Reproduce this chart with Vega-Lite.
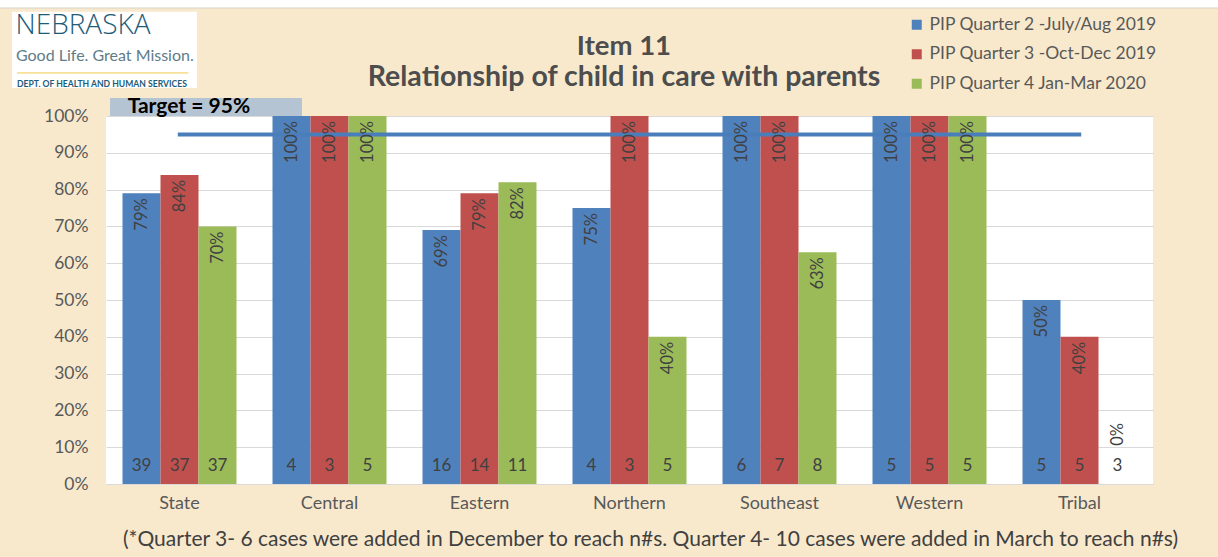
{
  "$schema": "https://vega.github.io/schema/vega-lite/v6.json",
  "autosize": "none",
  "width": 1047,
  "height": 368,
  "padding": {"left": 106, "top": 116, "right": 65, "bottom": 73},
  "background": "#F8E9CD",
  "config": {
    "font": "Lato",
    "view": {"fill": "white", "stroke": null},
    "legend": {
      "orient": "none",
      "legendX": 802,
      "legendY": -100,
      "title": null,
      "symbolType": "square",
      "symbolSize": 100,
      "symbolStrokeWidth": 0,
      "labelFontSize": 17.5,
      "labelColor": "#595959",
      "labelOffset": 4,
      "rowPadding": 10.5,
      "padding": 0,
      "labelLimit": 400
    }
  },
  "datasets": {
    "items": [
      {"region": "State", "series": "PIP Quarter 2 -July/Aug 2019", "pct": 0.79, "n": 39},
      {"region": "State", "series": "PIP Quarter 3 -Oct-Dec 2019", "pct": 0.84, "n": 37},
      {"region": "State", "series": "PIP Quarter 4 Jan-Mar 2020", "pct": 0.70, "n": 37},
      {"region": "Central", "series": "PIP Quarter 2 -July/Aug 2019", "pct": 1.0, "n": 4},
      {"region": "Central", "series": "PIP Quarter 3 -Oct-Dec 2019", "pct": 1.0, "n": 3},
      {"region": "Central", "series": "PIP Quarter 4 Jan-Mar 2020", "pct": 1.0, "n": 5},
      {"region": "Eastern", "series": "PIP Quarter 2 -July/Aug 2019", "pct": 0.69, "n": 16},
      {"region": "Eastern", "series": "PIP Quarter 3 -Oct-Dec 2019", "pct": 0.79, "n": 14},
      {"region": "Eastern", "series": "PIP Quarter 4 Jan-Mar 2020", "pct": 0.82, "n": 11},
      {"region": "Northern", "series": "PIP Quarter 2 -July/Aug 2019", "pct": 0.75, "n": 4},
      {"region": "Northern", "series": "PIP Quarter 3 -Oct-Dec 2019", "pct": 1.0, "n": 3},
      {"region": "Northern", "series": "PIP Quarter 4 Jan-Mar 2020", "pct": 0.40, "n": 5},
      {"region": "Southeast", "series": "PIP Quarter 2 -July/Aug 2019", "pct": 1.0, "n": 6},
      {"region": "Southeast", "series": "PIP Quarter 3 -Oct-Dec 2019", "pct": 1.0, "n": 7},
      {"region": "Southeast", "series": "PIP Quarter 4 Jan-Mar 2020", "pct": 0.63, "n": 8},
      {"region": "Western", "series": "PIP Quarter 2 -July/Aug 2019", "pct": 1.0, "n": 5},
      {"region": "Western", "series": "PIP Quarter 3 -Oct-Dec 2019", "pct": 1.0, "n": 5},
      {"region": "Western", "series": "PIP Quarter 4 Jan-Mar 2020", "pct": 1.0, "n": 5},
      {"region": "Tribal", "series": "PIP Quarter 2 -July/Aug 2019", "pct": 0.50, "n": 5},
      {"region": "Tribal", "series": "PIP Quarter 3 -Oct-Dec 2019", "pct": 0.40, "n": 5},
      {"region": "Tribal", "series": "PIP Quarter 4 Jan-Mar 2020", "pct": 0.0, "n": 3}
    ]
  },
  "resolve": {"scale": {"x": "independent", "y": "independent"}, "axis": {"x": "independent", "y": "independent"}},
  "layer": [
    {
      "data": {"name": "items"},
      "mark": {"type": "bar"},
      "encoding": {
        "x": {
          "field": "region",
          "type": "nominal",
          "sort": ["State", "Central", "Eastern", "Northern", "Southeast", "Western", "Tribal"],
          "scale": {"paddingInner": 0.24, "paddingOuter": 0.11},
          "axis": {
            "title": "(*Quarter 3- 6 cases were added in December to reach n#s. Quarter 4- 10 cases were added in March to reach n#s)",
            "titleFontSize": 21,
            "titleFontWeight": "normal",
            "titleColor": "#404040",
            "titlePadding": 16,
            "titleX": 544,
            "titleAlign": "center",
            "labelAngle": 0,
            "labelFontSize": 18,
            "labelColor": "#595959",
            "labelPadding": 10,
            "ticks": false,
            "tickSize": 0,
            "domainColor": "#D9D9D9",
            "grid": false
          }
        },
        "xOffset": {
          "field": "series",
          "type": "nominal",
          "sort": ["PIP Quarter 2 -July/Aug 2019", "PIP Quarter 3 -Oct-Dec 2019", "PIP Quarter 4 Jan-Mar 2020"],
          "scale": {"paddingInner": 0, "paddingOuter": 0}
        },
        "y": {
          "field": "pct",
          "type": "quantitative",
          "scale": {"domain": [0, 1], "nice": false},
          "axis": {
            "title": null,
            "format": ".0%",
            "values": [0, 0.1, 0.2, 0.3, 0.4, 0.5, 0.6, 0.7, 0.8, 0.9, 1.0],
            "labelFontSize": 17.5,
            "labelColor": "#595959",
            "labelPadding": 18,
            "domain": false,
            "ticks": false,
            "tickSize": 0,
            "gridColor": "#D9D9D9"
          }
        },
        "color": {
          "field": "series",
          "type": "nominal",
          "sort": ["PIP Quarter 2 -July/Aug 2019", "PIP Quarter 3 -Oct-Dec 2019", "PIP Quarter 4 Jan-Mar 2020"],
          "scale": {
            "domain": ["PIP Quarter 2 -July/Aug 2019", "PIP Quarter 3 -Oct-Dec 2019", "PIP Quarter 4 Jan-Mar 2020"],
            "range": ["#4F81BD", "#C0504D", "#9BBB59"]
          }
        }
      }
    },
    {
      "data": {"values": [{}]},
      "layer": [
        {
          "mark": {"type": "rect", "color": "white"},
          "encoding": {
            "x": {"datum": -0.72, "type": "quantitative", "scale": {"domain": [0, 7], "nice": false}, "axis": null},
            "x2": {"datum": 7.45},
            "y": {"datum": 1.2935, "type": "quantitative", "scale": {"domain": [0, 1], "nice": false}, "axis": null},
            "y2": {"datum": 1.33}
          }
        },
        {
          "mark": {"type": "rule", "color": "#D8D2C8", "strokeWidth": 1},
          "encoding": {
            "x": {"datum": -0.72, "type": "quantitative", "scale": {"domain": [0, 7], "nice": false}, "axis": null},
            "x2": {"datum": 7.45},
            "y": {"datum": 1.2935, "type": "quantitative", "scale": {"domain": [0, 1], "nice": false}, "axis": null}
          }
        },
        {
          "mark": {"type": "text", "text": "CFSR OSRI Case Review Data:", "fontSize": 30, "fontWeight": "bold", "color": "black", "align": "center", "baseline": "alphabetic"},
          "encoding": {
            "x": {"datum": 3.43, "type": "quantitative", "scale": {"domain": [0, 7], "nice": false}, "axis": null},
            "y": {"datum": 1.315, "type": "quantitative", "scale": {"domain": [0, 1], "nice": false}, "axis": null}
          }
        },
        {
          "mark": {"type": "rect", "color": "white"},
          "encoding": {
            "x": {"datum": -0.628, "type": "quantitative", "scale": {"domain": [0, 7], "nice": false}, "axis": null},
            "x2": {"datum": 0.608},
            "y": {"datum": 1.283, "type": "quantitative", "scale": {"domain": [0, 1], "nice": false}, "axis": null},
            "y2": {"datum": 1.076}
          }
        },
        {
          "mark": {"type": "text", "text": "NEBRASKA", "font": "Open Sans", "fontSize": 28, "fontWeight": 300, "color": "#1D5C78", "align": "left", "baseline": "middle"},
          "encoding": {
            "x": {"datum": -0.605, "type": "quantitative", "scale": {"domain": [0, 7], "nice": false}, "axis": null},
            "y": {"datum": 1.245, "type": "quantitative", "scale": {"domain": [0, 1], "nice": false}, "axis": null}
          }
        },
        {
          "mark": {"type": "text", "text": "Good Life. Great Mission.", "fontSize": 16, "color": "#5E7C88", "align": "left", "baseline": "middle"},
          "encoding": {
            "x": {"datum": -0.602, "type": "quantitative", "scale": {"domain": [0, 7], "nice": false}, "axis": null},
            "y": {"datum": 1.163, "type": "quantitative", "scale": {"domain": [0, 1], "nice": false}, "axis": null}
          }
        },
        {
          "mark": {"type": "rule", "color": "#F2C94C", "strokeWidth": 1},
          "encoding": {
            "x": {"datum": -0.595, "type": "quantitative", "scale": {"domain": [0, 7], "nice": false}, "axis": null},
            "x2": {"datum": 0.55},
            "y": {"datum": 1.117, "type": "quantitative", "scale": {"domain": [0, 1], "nice": false}, "axis": null}
          }
        },
        {
          "mark": {"type": "text", "text": "DEPT. OF HEALTH AND HUMAN SERVICES", "fontSize": 8.6, "fontWeight": "bold", "color": "#1D5C78", "align": "left", "baseline": "middle"},
          "encoding": {
            "x": {"datum": -0.595, "type": "quantitative", "scale": {"domain": [0, 7], "nice": false}, "axis": null},
            "y": {"datum": 1.087, "type": "quantitative", "scale": {"domain": [0, 1], "nice": false}, "axis": null}
          }
        },
        {
          "mark": {"type": "text", "text": "Item 11", "fontSize": 27.5, "fontWeight": "bold", "color": "#4D4D4D", "align": "center", "baseline": "middle"},
          "encoding": {
            "x": {"datum": 3.463, "type": "quantitative", "scale": {"domain": [0, 7], "nice": false}, "axis": null},
            "y": {"datum": 1.1875, "type": "quantitative", "scale": {"domain": [0, 1], "nice": false}, "axis": null}
          }
        },
        {
          "mark": {"type": "text", "text": "Relationship of child in care with parents", "fontSize": 28.5, "fontWeight": "bold", "color": "#4D4D4D", "align": "center", "baseline": "middle"},
          "encoding": {
            "x": {"datum": 3.463, "type": "quantitative", "scale": {"domain": [0, 7], "nice": false}, "axis": null},
            "y": {"datum": 1.106, "type": "quantitative", "scale": {"domain": [0, 1], "nice": false}, "axis": null}
          }
        },
        {
          "mark": {"type": "rect", "color": "#B5C4D3"},
          "encoding": {
            "x": {"datum": 0.027, "type": "quantitative", "scale": {"domain": [0, 7], "nice": false}, "axis": null},
            "x2": {"datum": 1.31},
            "y": {"datum": 1.049, "type": "quantitative", "scale": {"domain": [0, 1], "nice": false}, "axis": null},
            "y2": {"datum": 1.0}
          }
        },
        {
          "mark": {"type": "text", "text": "Target = 95%", "fontSize": 21, "fontWeight": "bold", "color": "black", "align": "left", "baseline": "middle"},
          "encoding": {
            "x": {"datum": 0.145, "type": "quantitative", "scale": {"domain": [0, 7], "nice": false}, "axis": null},
            "y": {"datum": 1.0245, "type": "quantitative", "scale": {"domain": [0, 1], "nice": false}, "axis": null}
          }
        },
        {
          "mark": {"type": "rule", "color": "#4A7EBB", "strokeWidth": 4},
          "encoding": {
            "x": {"datum": 0.48, "type": "quantitative", "scale": {"domain": [0, 7], "nice": false}, "axis": null},
            "x2": {"datum": 6.52},
            "y": {"datum": 0.95, "type": "quantitative", "scale": {"domain": [0, 1], "nice": false}, "axis": null}
          }
        }
      ]
    },
    {
      "data": {"name": "items"},
      "encoding": {
        "x": {
          "field": "region",
          "type": "nominal",
          "sort": ["State", "Central", "Eastern", "Northern", "Southeast", "Western", "Tribal"],
          "scale": {"paddingInner": 0.24, "paddingOuter": 0.11},
          "axis": null
        },
        "xOffset": {
          "field": "series",
          "type": "nominal",
          "sort": ["PIP Quarter 2 -July/Aug 2019", "PIP Quarter 3 -Oct-Dec 2019", "PIP Quarter 4 Jan-Mar 2020"],
          "scale": {"paddingInner": 0, "paddingOuter": 0}
        },
        "y": {
          "field": "pct",
          "type": "quantitative",
          "scale": {"domain": [0, 1], "nice": false},
          "axis": null
        },
        "color": {"value": "#404040"}
      },
      "layer": [
        {
          "transform": [{"filter": "datum.pct > 0"}],
          "mark": {"type": "text", "angle": 270, "align": "right", "baseline": "middle", "yOffset": 5, "fontSize": 16.5},
          "encoding": {
            "text": {"field": "pct", "type": "quantitative", "format": ".0%"}
          }
        },
        {
          "transform": [{"filter": "datum.pct == 0"}],
          "mark": {"type": "text", "angle": 270, "align": "right", "baseline": "middle", "yOffset": -61, "fontSize": 16.5},
          "encoding": {
            "text": {"field": "pct", "type": "quantitative", "format": ".0%"}
          }
        },
        {
          "mark": {"type": "text", "align": "center", "baseline": "middle", "yOffset": -18, "fontSize": 17},
          "encoding": {
            "y": {"datum": 0, "type": "quantitative", "scale": {"domain": [0, 1], "nice": false}, "axis": null},
            "text": {"field": "n", "type": "quantitative"}
          }
        }
      ]
    }
  ]
}
